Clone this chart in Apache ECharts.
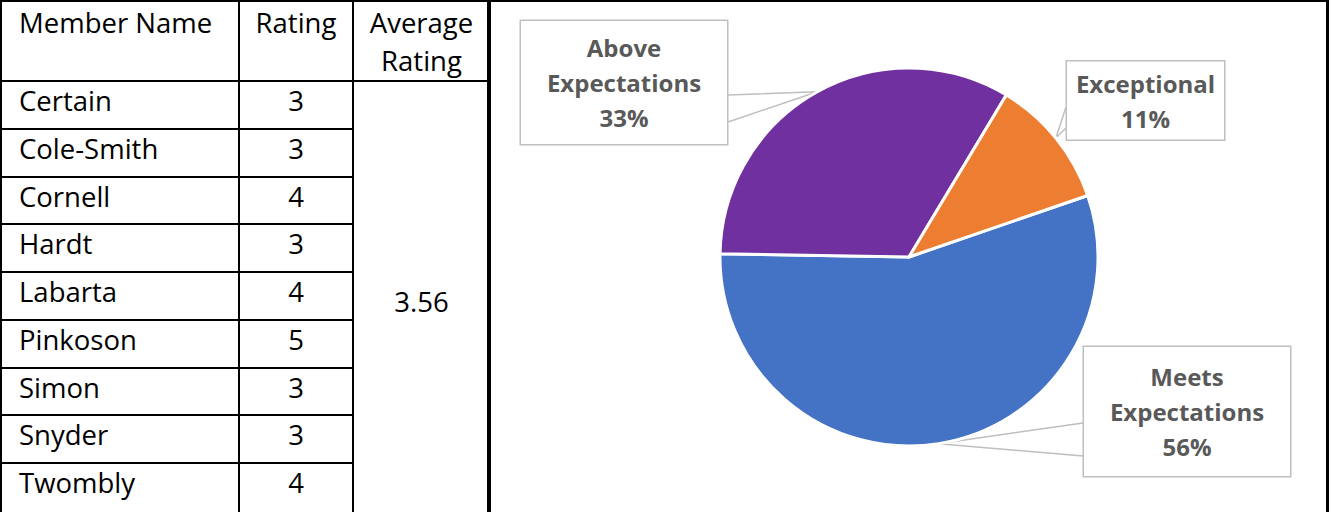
<!DOCTYPE html>
<html>
<head>
<meta charset="utf-8">
<title>Member Ratings</title>
<script src="https://cdn.jsdelivr.net/npm/echarts@6/dist/echarts.min.js"></script>
<style>
  html, body { margin: 0; padding: 0; background: #fff; }
  #page { position: relative; width: 1332px; height: 512px; overflow: hidden; }
  #main { position: absolute; left: 0; top: 0; width: 1332px; height: 512px; }
  #frame {
    position: absolute; left: 487px; top: 0; width: 837px; height: 540px;
    border-top: 2px solid #000; border-left: 2px solid #000; border-right: 3px solid #000;
  }
  #ratings {
    position: absolute; left: 0; top: 0;
    border-collapse: collapse; table-layout: fixed; width: 489px;
    font-family: 'Open Sans', sans-serif; font-size: 27.5px; color: #000;
  }
  #ratings td { border: 2px solid #000; padding: 0; line-height: 38px; }
  #ratings tr.head td { height: 75px; vertical-align: top; padding-top: 2px; }
  #ratings tr.row td { height: 38px; vertical-align: middle; padding-bottom: 7.75px; }
  #ratings tr.row:last-child td { padding-bottom: 12px; }
  #ratings tr.row td.avg { padding-bottom: 0; padding-top: 8px; }
  #ratings .name { text-align: left; padding-left: 17px; }
  #ratings .num { text-align: center; }
</style>
</head>
<body>
<div id="page">
  <div id="main"></div>
  <div id="frame"></div>
  <table id="ratings">
    <colgroup><col style="width:238px"><col style="width:114px"><col style="width:137px"></colgroup>
    <tbody id="tbody"></tbody>
  </table>
</div>
<script>
// table data
var memberNames = ['Certain', 'Cole-Smith', 'Cornell', 'Hardt', 'Labarta', 'Pinkoson', 'Simon', 'Snyder', 'Twombly'];
var ratings = [3, 3, 4, 3, 4, 5, 3, 3, 4];
var headers = ['Member Name', 'Rating', 'Average<br>Rating'];

// pie data (count of members per rating band)
var ratingBands = ['Meets Expectations', 'Above Expectations', 'Exceptional'];
var bandCounts = [5, 3, 1];
var bandColors = ['#4472C4', '#7030A0', '#ED7D31'];

// build the table
var avg = (ratings.reduce(function (a, b) { return a + b; }, 0) / ratings.length).toFixed(2);
var html = '<tr class="head"><td class="name">' + headers[0] + '</td><td class="num">' + headers[1] +
  '</td><td class="num">' + headers[2] + '</td></tr>';
for (var i = 0; i < memberNames.length; i++) {
  html += '<tr class="row"><td class="name">' + memberNames[i] + '</td><td class="num">' + ratings[i] + '</td>';
  if (i === 0) {
    html += '<td class="num avg" rowspan="' + memberNames.length + '">' + avg + '</td>';
  }
  html += '</tr>';
}
document.getElementById('tbody').innerHTML = html;

// callout boxes: centre, and where the pointer leaves the box edge
var callouts = [
  { cx: 1187, cy: 411.5, edgeX: 1083, y1: 423, y2: 456, width: 206, pad: 12 },
  { cx: 624, cy: 82.5, edgeX: 728, y1: 95, y2: 122, width: 206, pad: 9 },
  { cx: 1145.5, cy: 100.5, edgeX: 1066, y1: 107, y2: 128, width: 157, pad: 4 }
];

var chartDom = document.getElementById('main');
var myChart = echarts.init(chartDom, null, { renderer: 'svg' });

var pieData = ratingBands.map(function (name, idx) {
  return {
    name: name,
    value: bandCounts[idx],
    itemStyle: { color: bandColors[idx] },
    label: { width: callouts[idx].width, padding: [callouts[idx].pad, 0] }
  };
});

var option = {
  animation: false,
  series: [
    {
      type: 'pie',
      center: [909, 257],
      radius: 189,
      startAngle: 19,
      clockwise: true,
      avoidLabelOverlap: false,
      itemStyle: { borderColor: '#fff', borderWidth: 3 },
      label: {
        show: true,
        position: 'outside',
        formatter: function (p) {
          return p.name.replace(' ', '\n') + '\n' + Math.round(p.percent) + '%';
        },
        fontFamily: 'Open Sans',
        fontWeight: 'bold',
        fontSize: 24,
        lineHeight: 35,
        color: '#595959',
        align: 'center',
        backgroundColor: '#fff',
        borderColor: '#BFBFBF',
        borderWidth: 1.5
      },
      labelLine: {
        show: true,
        lineStyle: { color: '#BFBFBF', width: 1.5 }
      },
      labelLayout: function (params) {
        var b = callouts[params.dataIndex];
        var tip = params.labelLinePoints[0];
        return {
          x: b.cx,
          y: b.cy,
          align: 'center',
          verticalAlign: 'middle',
          labelLinePoints: [[b.edgeX, b.y1], tip, [b.edgeX, b.y2]]
        };
      },
      emphasis: { disabled: true },
      data: pieData
    }
  ]
};

myChart.setOption(option);
window.addEventListener('resize', function () {
  myChart.resize();
});
</script>
</body>
</html>
